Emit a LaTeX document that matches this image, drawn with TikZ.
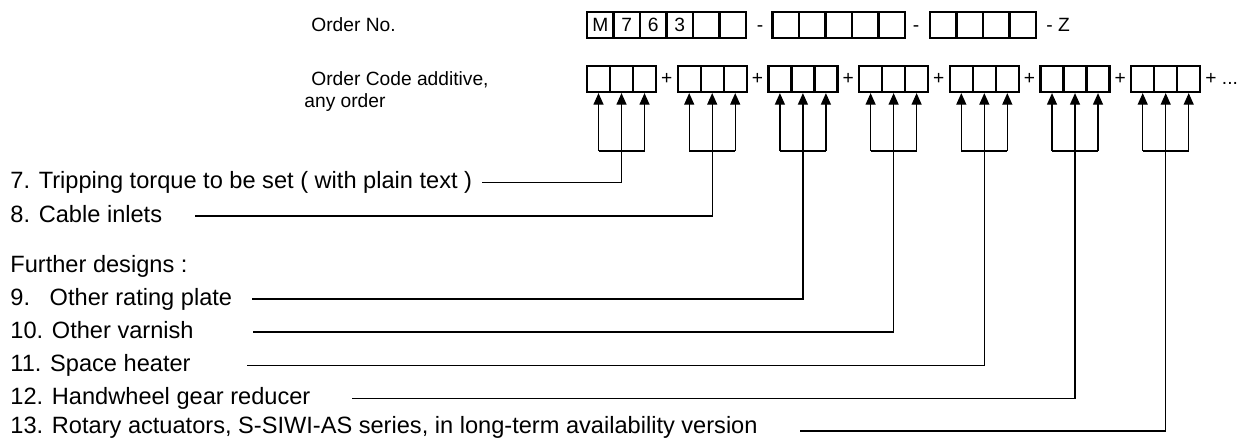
\documentclass[tikz,border=0pt]{standalone}
\usepackage{fontspec}
\setmainfont{Liberation Sans}
\usetikzlibrary{arrows.meta}

\tikzstyle{topcell} = [draw, line width=1.1pt, minimum width=13.25pt, minimum height=13pt, inner sep=0pt, font=\fontsize{9.6}{11}\selectfont]
\tikzstyle{addcell} = [draw, line width=1.1pt, minimum width=11.5pt, minimum height=13pt, inner sep=0pt]
\tikzstyle{sign} = [inner sep=0pt, anchor=base, font=\fontsize{9.6}{11}\selectfont]
\tikzstyle{plain} = [inner sep=0pt, anchor=base west, font=\fontsize{9.6}{11}\selectfont]
\tikzstyle{label} = [inner sep=0pt, anchor=base west, font=\fontsize{11.8}{14}\selectfont]
\tikzstyle{feed} = [line width=0.7pt]
\tikzstyle{pointer} = [feed, -{Triangle[length=5.8pt, width=5pt]}]

\begin{document}
\begin{tikzpicture}[x=0.5pt, y=-0.5pt]
  \useasboundingbox (0,0) rectangle (1240,439);
  % order number row
  \node[plain] (ordno) at (311,31) {Order No.};
  \foreach \k/\t in {1/M,2/7,3/6,4/3,5/{},6/{}}
    \node[topcell] (a\k) at ({573.75+26.5*\k},25) {\t};
  \node[sign] (da) at (760,31.5) {-};
  \foreach \k in {1,...,5}
    \node[topcell] (b\k) at ({759.25+26.5*\k},25) {};
  \node[sign] (db) at (916,31.5) {-};
  \foreach \k in {1,...,4}
    \node[topcell] (z\k) at ({916.75+26.5*\k},25) {};
  \node[plain] (zz) at (1046,31.5) {- Z};

  % order code additive row
  \node[plain] (ordcode) at (311,85) {Order Code additive,};
  \node[plain] (anyord) at (304,107) {any order};
  \foreach \g in {0,...,6}
    \foreach \k in {1,2,3}
      \node[addcell] (c\g-\k) at ({575.5+90.7*\g+23*\k},79) {};
  \foreach \g in {0,...,5}
    \node[sign] (p\g) at ({666.7+90.7*\g},84) {+};
  \node[plain] (pend) at (1205,84) {+ ...};

  % item labels and feeders
  \node[label] (fd) at (10,272) {Further designs :};
  \foreach \g/\ly/\lx/\ty/\txt in {
      0/182.5/482/188.5/{7. Tripping torque to be set ( with plain text )},
      1/216/195/222/{8. Cable inlets},
      2/299/252/305/{9.\hspace{0.834em}Other rating plate},
      3/332/253/338/{10. Other varnish},
      4/365.5/247/371.5/{11. Space heater},
      5/398.5/352/404.5/{12. Handwheel gear reducer},
      6/431/800/433.5/{13. Rotary actuators, S-SIWI-AS series, in long-term availability version}} {
    \node[label] (t\g) at (10,\ty) {\txt};
    \coordinate (s\g) at (\lx,\ly);
    \coordinate (e\g) at (c\g-2.south |- s\g);
    \path (c\g-1.south) ++(0,58) coordinate (l\g);
    \path (c\g-3.south) ++(0,58) coordinate (r\g);
    \draw[feed] (l\g) -- (r\g);
    \draw[pointer] (l\g) -- (c\g-1.south);
    \draw[pointer] (r\g) -- (c\g-3.south);
    \draw[pointer] (s\g) -- (e\g) -- (c\g-2.south);
  }
\end{tikzpicture}
\end{document}
